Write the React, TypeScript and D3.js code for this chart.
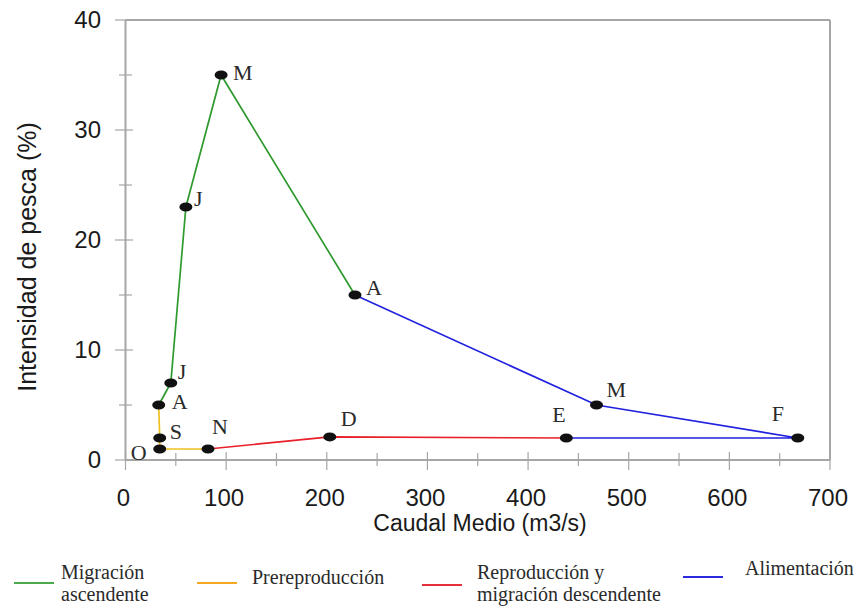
import React from "react";
import * as d3 from "d3";

// ---- data ----
const months = ["O", "N", "D", "E", "F", "M", "A", "M", "J", "J", "A", "S"];
const caudal = [34, 82, 203, 438, 668, 468, 228, 95, 60, 45, 33, 34];
const intensidad = [1, 1, 2.1, 2, 2, 5, 15, 35, 23, 7, 5, 2];
// phases: indices along the cycle O->N->...->S->O
const phaseNames = ["Migración ascendente", "Prereproducción", "Reproducción y migración descendente", "Alimentación"];
const phasePoints = [
  [6, 7, 8, 9, 10],
  [10, 11, 0, 1],
  [1, 2, 3],
  [3, 4, 5, 6],
];
const xTicks = [0, 100, 200, 300, 400, 500, 600, 700];
const yTicks = [0, 10, 20, 30, 40];

// ---- styles ----
const plotColors = ["#2e9a2e", "#f0c020", "#e8202a", "#2222e0"];
const legendColors = ["#4caa4c", "#f5a623", "#e8303a", "#2a2ae0"];
const labelOffsets: [number, number][] = [
  [-29, 3], [4, -23], [11, -19], [-14, -24], [-26, -25], [10, -16],
  [11, -8], [12, -3], [8, -9], [7, -12], [13, -4], [10, -7],
];

export default function App() {
  const W = 867, H = 607;
  const x = d3.scaleLinear().domain([0, 700]).range([125.5, 830]);
  const y = d3.scaleLinear().domain([0, 40]).range([460, 20]);
  const line = d3.line<number>().x((i) => x(caudal[i])).y((i) => y(intensidad[i]));
  const axisColor = "#a6a6a6";
  const sans = "'Liberation Sans', Arial, sans-serif";
  const serif = "'Liberation Serif', 'Times New Roman', serif";
  const xMinor = d3.range(50, 700, 100);
  const yMinor = d3.range(5, 40, 10);

  const legendItems = [
    { lx: 14, ly: 583, tx: 61, lines: ["Migración", "ascendente"], ty: 579 },
    { lx: 197, ly: 583, tx: 252, lines: ["Prereproducción"], ty: 584 },
    { lx: 422, ly: 585, tx: 477, lines: ["Reproducción y", "migración descendente"], ty: 579 },
    { lx: 683, ly: 577, tx: 745, lines: ["Alimentación"], ty: 575 },
  ];

  return (
    <svg width={W} height={H} style={{ position: "absolute", left: 0, top: 0, background: "#fff" }}>
      {/* frame */}
      <line x1={125.5} x2={830} y1={20} y2={20} stroke={axisColor} strokeWidth={2} />
      <line x1={830} x2={830} y1={20} y2={460} stroke={axisColor} strokeWidth={2} />
      <line x1={125.5} x2={125.5} y1={20} y2={460} stroke={axisColor} strokeWidth={2} />
      <line x1={125.5} x2={830} y1={460} y2={460} stroke={axisColor} strokeWidth={2} />
      {/* y ticks */}
      {yTicks.map((t) => (
        <g key={"y" + t}>
          <line x1={115} x2={133} y1={y(t)} y2={y(t)} stroke={axisColor} strokeWidth={1.2} />
          <text x={101} y={y(t)} dy="0.35em" textAnchor="end" fontFamily={sans} fontSize={24} fill="#1a1a1a">{t}</text>
        </g>
      ))}
      {yMinor.map((t) => (
        <line key={"ym" + t} x1={119} x2={132} y1={y(t)} y2={y(t)} stroke={axisColor} strokeWidth={1.2} />
      ))}
      {/* x ticks */}
      {xTicks.map((t) => (
        <g key={"x" + t}>
          <line x1={x(t)} x2={x(t)} y1={452} y2={470} stroke={axisColor} strokeWidth={1.2} />
          <text x={x(t) - 2} y={506} textAnchor="middle" fontFamily={sans} fontSize={24} fill="#1a1a1a">{t}</text>
        </g>
      ))}
      {xMinor.map((t) => (
        <line key={"xm" + t} x1={x(t)} x2={x(t)} y1={453} y2={466} stroke={axisColor} strokeWidth={1.2} />
      ))}
      {/* axis titles */}
      <text x={480} y={531} textAnchor="middle" fontFamily={sans} fontSize={23} fill="#1a1a1a">Caudal Medio (m3/s)</text>
      <text transform={`translate(36,257) rotate(-90)`} textAnchor="middle" fontFamily={sans} fontSize={25} fill="#1a1a1a">Intensidad de pesca (%)</text>
      {/* series */}
      {phasePoints.map((pts, k) => (
        <path key={"p" + k} d={line(pts) || ""} fill="none" stroke={plotColors[k]} strokeWidth={1.7} />
      ))}
      {/* markers */}
      {months.map((m, i) => (
        <ellipse key={"m" + i} cx={x(caudal[i])} cy={y(intensidad[i])} rx={6.5} ry={4.5} fill="#111" />
      ))}
      {/* month labels */}
      {months.map((m, i) => (
        <text key={"l" + i} x={x(caudal[i]) + labelOffsets[i][0]} y={y(intensidad[i]) + labelOffsets[i][1]} dy="0.35em" fontFamily={serif} fontSize={22} fill="#2a2a2a">{m}</text>
      ))}
      {/* legend */}
      {legendItems.map((it, k) => (
        <g key={"lg" + k}>
          <line x1={it.lx} x2={it.lx + 40} y1={it.ly} y2={it.ly} stroke={legendColors[k]} strokeWidth={2} />
          {it.lines.map((s, j) => (
            <text key={j} x={it.tx} y={it.ty + j * 22} fontFamily={serif} fontSize={20} fill="#2a2a2a">{s}</text>
          ))}
        </g>
      ))}
      <title>{phaseNames.join(", ")}</title>
    </svg>
  );
}
